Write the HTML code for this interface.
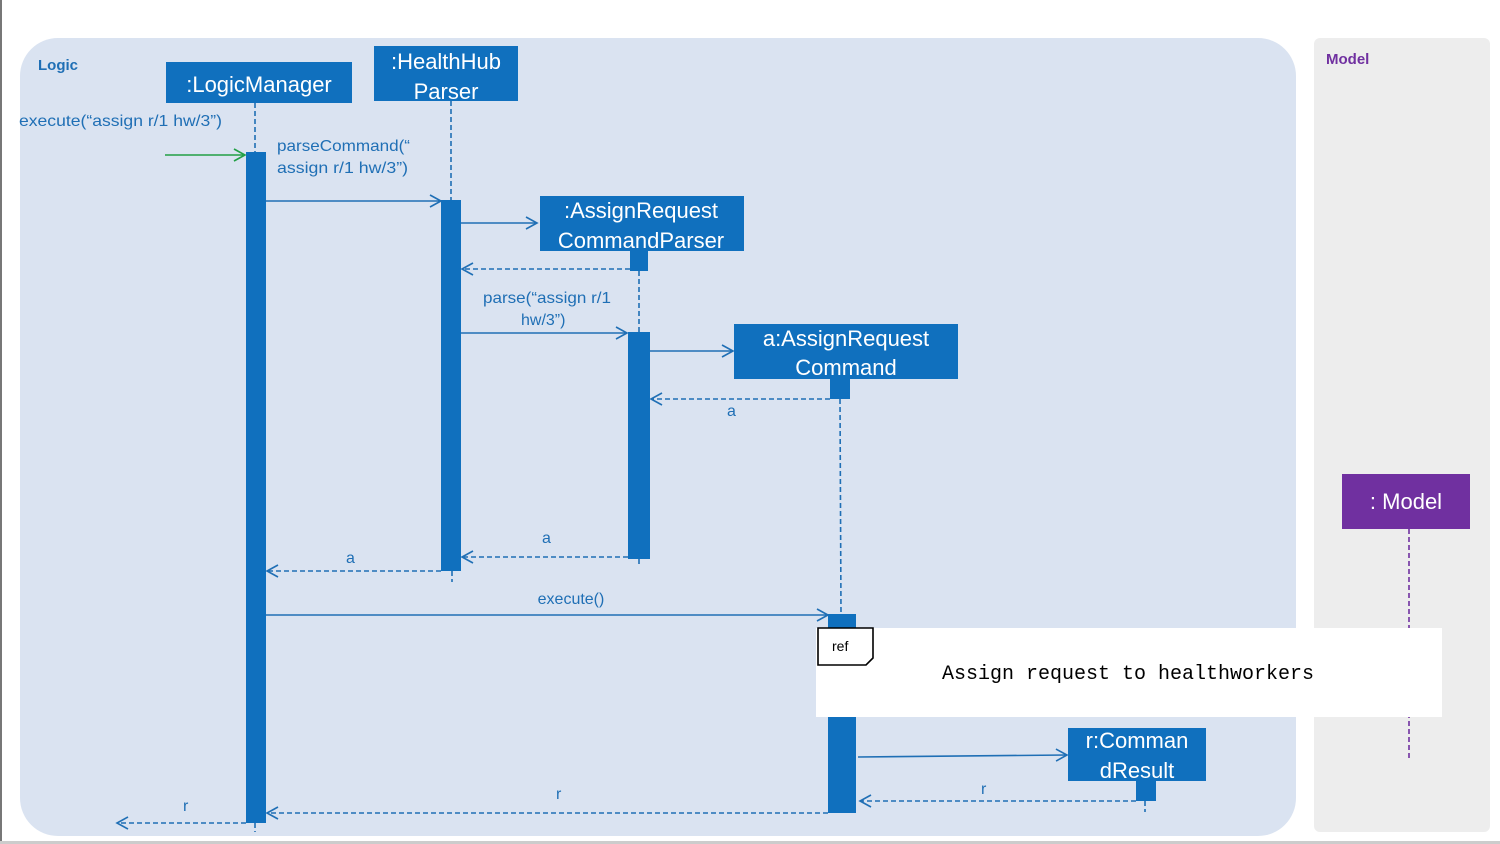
<!DOCTYPE html>
<html><head><meta charset="utf-8"><style>
html,body{margin:0;padding:0;background:#fff;}
svg{display:block;font-family:"Liberation Sans",sans-serif;}
</style></head><body>
<svg width="1500" height="844" viewBox="0 0 1500 844" xmlns="http://www.w3.org/2000/svg">
<defs>
<marker id="ob" markerWidth="14" markerHeight="14" refX="12" refY="7" orient="auto" markerUnits="userSpaceOnUse"><path d="M1,1 L12,7 L1,13" fill="none" stroke="#1f6fb5" stroke-width="1.6"/></marker>
<marker id="og" markerWidth="14" markerHeight="14" refX="12" refY="7" orient="auto" markerUnits="userSpaceOnUse"><path d="M1,1 L12,7 L1,13" fill="none" stroke="#22a046" stroke-width="1.6"/></marker>
</defs>
<rect x="0" y="0" width="1500" height="844" fill="#fff"/>
<rect x="0" y="0" width="2" height="844" fill="#777"/>
<rect x="0" y="841" width="1500" height="3" fill="#ccc"/>
<rect x="20" y="38" width="1276" height="798" rx="38" fill="#dae3f1"/>
<rect x="1314" y="38" width="176" height="794" rx="6" fill="#ededed"/>
<text x="38" y="70" font-size="15" font-weight="bold" fill="#1f6fb5">Logic</text>
<text x="1326" y="64" font-size="15" font-weight="bold" fill="#7030a0">Model</text>

<g stroke="#1f6fb5" stroke-width="1.6" stroke-dasharray="5,3" fill="none">
<line x1="255" y1="103" x2="255" y2="152"/>
<line x1="255" y1="823" x2="255" y2="832"/>
<line x1="451" y1="101" x2="451" y2="200"/>
<line x1="452" y1="571" x2="452" y2="582"/>
<line x1="639" y1="271" x2="639" y2="332"/>
<line x1="639" y1="559" x2="639" y2="566"/>
<line x1="840" y1="399" x2="841" y2="614"/>
<line x1="1145" y1="801" x2="1145" y2="812"/>
</g>
<line x1="1409" y1="529" x2="1409" y2="758" stroke="#7030a0" stroke-width="1.6" stroke-dasharray="5,3"/>

<g fill="#1070be">
<rect x="166" y="62" width="186" height="41"/>
<rect x="374" y="46" width="144" height="55"/>
<rect x="540" y="196" width="204" height="55"/>
<rect x="734" y="324" width="224" height="55"/>
<rect x="1068" y="728" width="138" height="53"/>
<rect x="246" y="152" width="20" height="671"/>
<rect x="441" y="200" width="20" height="371"/>
<rect x="630" y="251" width="18" height="20"/>
<rect x="628" y="332" width="22" height="227"/>
<rect x="830" y="379" width="20" height="20"/>
<rect x="828" y="614" width="28" height="199"/>
<rect x="1136" y="781" width="20" height="20"/>
</g>
<rect x="1342" y="474" width="128" height="55" fill="#7030a0"/>

<g fill="#fff" font-size="22" text-anchor="middle">
<text x="259" y="92">:LogicManager</text>
<text x="446" y="69">:HealthHub</text>
<text x="446" y="99">Parser</text>
<text x="641" y="218">:AssignRequest</text>
<text x="641" y="248">CommandParser</text>
<text x="846" y="346">a:AssignRequest</text>
<text x="846" y="375">Command</text>
<text x="1137" y="748">r:Comman</text>
<text x="1137" y="778">dResult</text>
<text x="1406" y="509">: Model</text>
</g>

<g stroke="#1f6fb5" stroke-width="1.6" fill="none">
<line x1="266" y1="201" x2="441" y2="201" marker-end="url(#ob)"/>
<line x1="461" y1="223" x2="537" y2="223" marker-end="url(#ob)"/>
<line x1="461" y1="333" x2="627" y2="333" marker-end="url(#ob)"/>
<line x1="650" y1="351" x2="733" y2="351" marker-end="url(#ob)"/>
<line x1="266" y1="615" x2="828" y2="615" marker-end="url(#ob)"/>
<line x1="858" y1="757" x2="1067" y2="755" marker-end="url(#ob)"/>
<g stroke-dasharray="5,3">
<line x1="630" y1="269" x2="462" y2="269" marker-end="url(#ob)"/>
<line x1="830" y1="399" x2="651" y2="399" marker-end="url(#ob)"/>
<line x1="628" y1="557" x2="462" y2="557" marker-end="url(#ob)"/>
<line x1="441" y1="571" x2="267" y2="571" marker-end="url(#ob)"/>
<line x1="1136" y1="801" x2="860" y2="801" marker-end="url(#ob)"/>
<line x1="828" y1="813" x2="267" y2="813" marker-end="url(#ob)"/>
<line x1="246" y1="823" x2="117" y2="823" marker-end="url(#ob)"/>
</g>
</g>
<line x1="165" y1="155" x2="245" y2="155" stroke="#22a046" stroke-width="1.6" marker-end="url(#og)"/>

<g fill="#1f6fb5" font-size="16">
<text x="19" y="126" textLength="203" lengthAdjust="spacingAndGlyphs">execute(“assign r/1 hw/3”)</text>
<text x="277" y="151" textLength="133" lengthAdjust="spacingAndGlyphs">parseCommand(“</text>
<text x="277" y="173" textLength="131" lengthAdjust="spacingAndGlyphs">assign r/1 hw/3”)</text>
<text x="483" y="303" textLength="128" lengthAdjust="spacingAndGlyphs">parse(“assign r/1</text>
<text x="521" y="325">hw/3”)</text>
<text x="727" y="416">a</text>
<text x="542" y="543">a</text>
<text x="346" y="563">a</text>
<text x="571" y="604" text-anchor="middle">execute()</text>
<text x="981" y="794">r</text>
<text x="556" y="799">r</text>
<text x="183" y="811">r</text>
</g>

<rect x="816" y="628" width="626" height="89" fill="#fff"/>
<path d="M818,628 L873,628 L873,658 L866,665 L818,665 Z" fill="#fff" stroke="#000" stroke-width="1.6"/>
<text x="832" y="651" font-size="14" fill="#000">ref</text>
<text x="1128" y="679" font-size="20" font-family="Liberation Mono, monospace" text-anchor="middle" fill="#000">Assign request to healthworkers</text>
</svg>
</body></html>
